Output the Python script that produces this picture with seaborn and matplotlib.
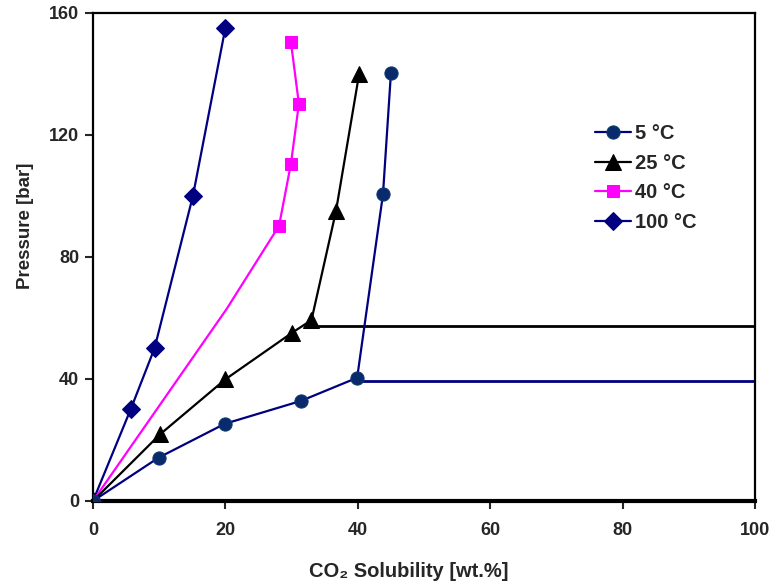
import matplotlib
matplotlib.use("Agg")
import matplotlib.pyplot as plt
import seaborn as sns

# CO2 solubility (wt.%) vs pressure (bar) at four temperatures
sol_5 = [0, 9.9, 19.9, 31.4, 39.9, 43.8, 45.0]
p_5 = [0, 14.2, 25.3, 32.8, 40.4, 100.5, 140.2]

sol_25 = [0, 10.1, 20.0, 30.1, 33.0, 36.7, 40.2]
p_25 = [0, 21.8, 39.9, 55.2, 59.3, 95.0, 140.0]

sol_40 = [0, 20.2, 28.1, 29.9, 31.1, 29.9]
p_40 = [0, 63.0, 90.2, 110.6, 130.2, 150.4]
marked_40 = [0, 2, 3, 4, 5]

sol_100 = [0, 5.7, 9.3, 15.1, 20.0]
p_100 = [0, 30.1, 50.1, 100.1, 155.2]

# saturation-pressure plateaus
plateau_5_x = [39.9, 100]
plateau_5_y = [39.2, 39.2]
plateau_25_x = [33.0, 100]
plateau_25_y = [57.5, 57.5]

labels = ["5 °C", "25 °C", "40 °C", "100 °C"]
x_ticks = [0, 20, 40, 60, 80, 100]
y_ticks = [0, 40, 80, 120, 160]

sns.set_style("white")
plt.rcParams["font.family"] = ["Liberation Sans", "DejaVu Sans"]
plt.rcParams["font.weight"] = "bold"

fig = plt.figure(figsize=(7.79, 5.88), dpi=100)
ax = fig.add_axes([0.1194, 0.148, 0.8498, 0.8299])

navy = "#000080"
circ_fill = "#0a2a6e"
magenta = "#FF00FF"

common = dict(estimator=None, sort=False, ax=ax, linewidth=1.6)

sns.lineplot(x=plateau_5_x, y=plateau_5_y, color=navy, estimator=None,
             sort=False, ax=ax, linewidth=2.0, legend=False, zorder=2)
sns.lineplot(x=plateau_25_x, y=plateau_25_y, color="black", estimator=None,
             sort=False, ax=ax, linewidth=2.0, legend=False, zorder=2)

sns.lineplot(x=sol_100, y=p_100, color=navy, marker="D", markersize=9,
             markerfacecolor=navy, markeredgecolor=navy, label=labels[3],
             zorder=3, **common)
sns.lineplot(x=sol_40, y=p_40, color=magenta, marker="s", markersize=9,
             markerfacecolor=magenta, markeredgecolor=magenta,
             markevery=marked_40, label=labels[2], zorder=3, **common)
sns.lineplot(x=sol_25, y=p_25, color="black", marker="^", markersize=11,
             markerfacecolor="black", markeredgecolor="black",
             label=labels[1], zorder=4, **common)
sns.lineplot(x=sol_5, y=p_5, color=navy, marker="o", markersize=9.5,
             markerfacecolor=circ_fill, markeredgecolor="#0b3a6a",
             label=labels[0], zorder=5, **common)

ax.set_xlim(0, 100)
ax.set_ylim(0, 160)
ax.set_xticks(x_ticks)
ax.set_yticks(y_ticks)
ax.tick_params(axis="both", direction="out", length=6, width=1.5,
               labelsize=13, bottom=True, left=True)
ax.tick_params(axis="x", pad=9)
ax.tick_params(axis="y", pad=4)
for lab in ax.get_xticklabels() + ax.get_yticklabels():
    lab.set_fontweight("bold")

for side, sp in ax.spines.items():
    sp.set_visible(True)
    sp.set_color("black")
    sp.set_linewidth(1.6)
ax.spines["bottom"].set_linewidth(3.0)

ax.set_xlabel("CO₂ Solubility [wt.%]", fontsize=14.5, fontweight="bold")
ax.set_ylabel("Pressure [bar]", fontsize=13.5, fontweight="bold")
ax.xaxis.set_label_coords(0.477, -0.125)
ax.yaxis.set_label_coords(-0.089, 0.564)

handles, lbls = ax.get_legend_handles_labels()
order = [lbls.index(l) for l in labels]
leg = ax.legend([handles[i] for i in order], [lbls[i] for i in order],
                loc="upper left", bbox_to_anchor=(0.734, 0.805), frameon=False,
                prop={"size": 14.5, "weight": "bold"}, handlelength=1.8,
                handletextpad=0.2, labelspacing=0.52, borderpad=0.3)

fig.savefig("out.png", dpi=100, facecolor="white")
